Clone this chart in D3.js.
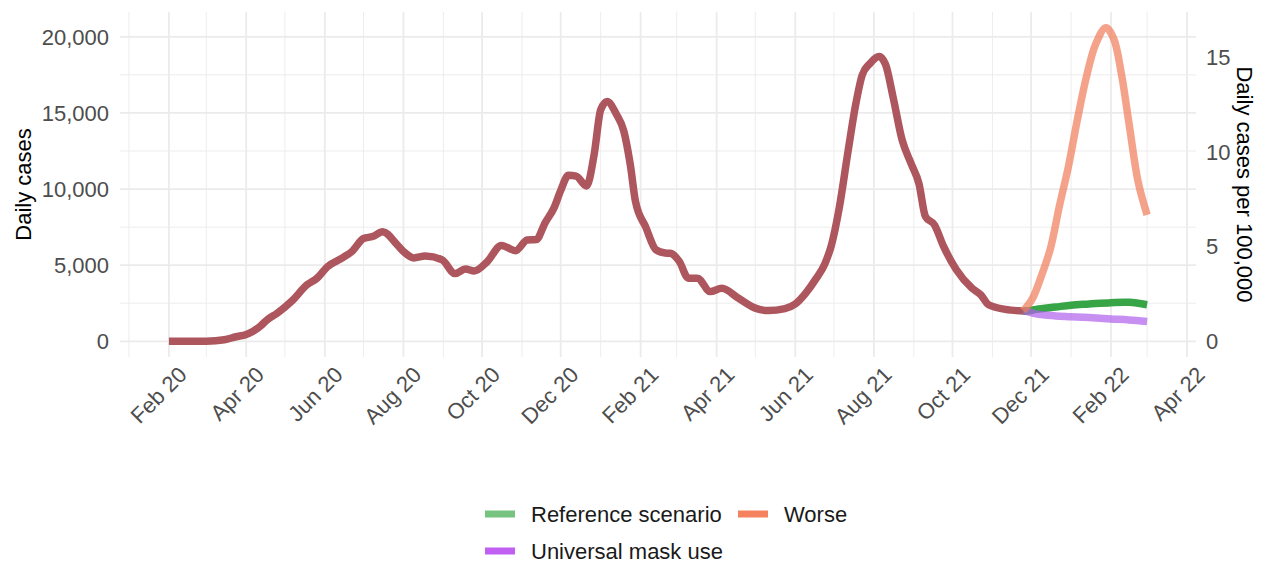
<!DOCTYPE html>
<html>
<head>
<meta charset="utf-8">
<script src="https://cdn.jsdelivr.net/npm/d3@7"></script>
<style>
  body { margin: 0; background: #fff; }
  svg { font-family: "Liberation Sans", Arial, sans-serif; }
</style>
</head>
<body>
<svg width="1267" height="564"></svg>
<script>
var histDates = ["2020-02-01","2020-03-01","2020-03-15","2020-03-24","2020-04-01","2020-04-06","2020-04-12","2020-04-17","2020-04-25","2020-05-07","2020-05-18","2020-05-26","2020-06-03","2020-06-15","2020-06-22","2020-07-01","2020-07-08","2020-07-16","2020-07-27","2020-08-01","2020-08-09","2020-08-18","2020-08-31","2020-09-10","2020-09-18","2020-09-25","2020-10-05","2020-10-16","2020-10-27","2020-11-05","2020-11-12","2020-11-19","2020-11-26","2020-12-01","2020-12-07","2020-12-13","2020-12-21","2020-12-27","2021-01-01","2021-01-06","2021-01-13","2021-01-19","2021-01-24","2021-01-28","2021-02-05","2021-02-13","2021-02-20","2021-02-24","2021-03-03","2021-03-10","2021-03-17","2021-03-27","2021-04-05","2021-04-18","2021-05-01","2021-05-11","2021-05-24","2021-06-01","2021-06-09","2021-06-17","2021-06-24","2021-06-29","2021-07-05","2021-07-12","2021-07-18","2021-07-23","2021-07-29","2021-08-05","2021-08-10","2021-08-16","2021-08-23","2021-08-30","2021-09-05","2021-09-10","2021-09-17","2021-09-24","2021-10-04","2021-10-16","2021-10-23","2021-10-29","2021-11-11","2021-11-23","2021-11-28"];
var histCases = [0,10,100,300,450,650,1000,1400,1850,2700,3700,4150,4900,5500,5900,6750,6880,7200,6350,5900,5480,5600,5350,4450,4750,4620,5230,6300,5950,6650,6680,7800,8800,9900,10900,10850,10200,12300,15200,15750,14950,13800,11600,9200,7500,6000,5800,5780,5250,4150,4150,3270,3480,2830,2180,2020,2150,2450,3150,4100,5100,6300,8700,12500,15600,17500,18250,18700,18200,16000,13200,11650,10350,8200,7650,6250,4700,3500,3050,2400,2100,2000,1980];

// projections
var refDates = ["2021-11-25","2021-11-28","2021-12-05","2021-12-20","2022-01-01","2022-01-15","2022-02-01","2022-02-15","2022-03-01"];
var refCases = [2000,1990,2100,2250,2370,2450,2540,2560,2400];
var maskDates = ["2021-11-25","2021-11-28","2021-12-05","2021-12-20","2022-01-01","2022-01-15","2022-02-01","2022-02-15","2022-03-01"];
var maskCases = [2000,1960,1800,1670,1620,1560,1470,1400,1300];
var worseDates = ["2021-11-25","2021-12-02","2021-12-09","2021-12-16","2021-12-23","2021-12-30","2022-01-06","2022-01-13","2022-01-20","2022-01-28","2022-02-03","2022-02-09","2022-02-15","2022-02-22","2022-03-01"];
var worseCases = [2000,2800,4300,6100,8900,11500,14600,17400,19500,20600,19900,17600,14300,10500,8300];

var legendLabels = ["Reference scenario", "Worse", "Universal mask use"];
var leftTicks = [0, 5000, 10000, 15000, 20000];
var rightTicks = [0, 5, 10, 15];
var perHundredK = 1245; // cases per 1 per 100,000

var parse = d3.timeParse("%Y-%m-%d");
function zipSeries(dates, vals) {
  return dates.map(function(d, i) { return {date: parse(d), v: vals[i]}; });
}
var hist = zipSeries(histDates, histCases);
var ref = zipSeries(refDates, refCases);
var mask = zipSeries(maskDates, maskCases);
var worse = zipSeries(worseDates, worseCases);

var panel = {left: 120, right: 1196, top: 12, bottom: 357};

// ggplot style 5% expansion
var xMin = parse("2020-02-01"), xMax = parse("2022-03-01");
var span = xMax - xMin;
var x = d3.scaleTime()
  .domain([new Date(+xMin - span * 0.05), new Date(+xMax + span * 0.05)])
  .range([panel.left, panel.right]);

var yMax = d3.max(worseCases);
var y = d3.scaleLinear()
  .domain([-yMax * 0.05, yMax * 1.05])
  .range([panel.bottom, panel.top]);

var svg = d3.select("svg");
var grid = svg.append("g");

// minor gridlines (odd months between the breaks)
var minorX = d3.timeMonth.range(parse("2020-01-01"), parse("2022-05-01"), 2);
grid.selectAll("line.minx")
  .data(minorX.filter(function(d) { return x(d) > panel.left && x(d) < panel.right; }))
  .enter().append("line")
  .attr("x1", function(d) { return x(d); }).attr("x2", function(d) { return x(d); })
  .attr("y1", panel.top).attr("y2", panel.bottom)
  .attr("stroke", "#ebebeb").attr("stroke-width", 0.9);
grid.selectAll("line.miny")
  .data([2500, 7500, 12500, 17500])
  .enter().append("line")
  .attr("x1", panel.left).attr("x2", panel.right)
  .attr("y1", function(d) { return y(d); }).attr("y2", function(d) { return y(d); })
  .attr("stroke", "#ebebeb").attr("stroke-width", 0.9);

// major gridlines
var majorX = d3.timeMonth.range(parse("2020-02-01"), parse("2022-05-01"), 2);
grid.selectAll("line.majx")
  .data(majorX)
  .enter().append("line")
  .attr("x1", function(d) { return x(d); }).attr("x2", function(d) { return x(d); })
  .attr("y1", panel.top).attr("y2", panel.bottom)
  .attr("stroke", "#ebebeb").attr("stroke-width", 1.8);
grid.selectAll("line.majy")
  .data(leftTicks)
  .enter().append("line")
  .attr("x1", panel.left).attr("x2", panel.right)
  .attr("y1", function(d) { return y(d); }).attr("y2", function(d) { return y(d); })
  .attr("stroke", "#ebebeb").attr("stroke-width", 1.8);

// tick labels
var fmt = d3.format(",");
svg.selectAll("text.yl")
  .data(leftTicks)
  .enter().append("text")
  .attr("x", 109).attr("y", function(d) { return y(d); })
  .attr("dy", "0.36em").attr("text-anchor", "end")
  .attr("font-size", 22).attr("fill", "#4d4d4d")
  .text(function(d) { return fmt(d); });

svg.selectAll("text.yr")
  .data(rightTicks)
  .enter().append("text")
  .attr("x", 1206).attr("y", function(d) { return y(d * perHundredK); })
  .attr("dy", "0.36em").attr("text-anchor", "start")
  .attr("font-size", 22).attr("fill", "#4d4d4d")
  .text(function(d) { return d; });

var xfmt = d3.timeFormat("%b %y");
svg.selectAll("text.xl")
  .data(majorX)
  .enter().append("text")
  .attr("transform", function(d) { return "translate(" + (x(d) + 8) + ",365) rotate(-45)"; })
  .attr("dy", "0.72em").attr("text-anchor", "end")
  .attr("font-size", 22).attr("fill", "#4d4d4d")
  .text(function(d) { return xfmt(d); });

// axis titles
svg.append("text")
  .attr("transform", "translate(31," + (panel.top + panel.bottom) / 2 + ") rotate(-90)")
  .attr("text-anchor", "middle").attr("font-size", 22).attr("fill", "#000")
  .text("Daily cases");
svg.append("text")
  .attr("transform", "translate(1237," + (panel.top + panel.bottom) / 2 + ") rotate(90)")
  .attr("text-anchor", "middle").attr("font-size", 22).attr("fill", "#000")
  .text("Daily cases per 100,000");

// lines
var line = d3.line()
  .x(function(d) { return x(d.date); })
  .y(function(d) { return y(d.v); })
  .curve(d3.curveMonotoneX);
var smooth = d3.line()
  .x(function(d) { return x(d.date); })
  .y(function(d) { return y(d.v); })
  .curve(d3.curveCatmullRom.alpha(0.5));

var lines = svg.append("g").attr("fill", "none").attr("stroke-linecap", "butt").attr("stroke-linejoin", "round");
lines.append("path").attr("d", line(hist)).attr("stroke", "#ad565d").attr("stroke-width", 7.5);
lines.append("path").attr("d", smooth(ref)).attr("stroke", "#37a545").attr("stroke-width", 7.5);
lines.append("path").attr("d", smooth(mask)).attr("stroke", "#b060ee").attr("stroke-opacity", 0.7).attr("stroke-width", 7.5);
lines.append("path").attr("d", smooth(worse)).attr("stroke", "#f07c58").attr("stroke-opacity", 0.7).attr("stroke-width", 7.5);

// legend
var legendColors = ["#76c47f", "#f4825e", "#c05ff2"];
var legendPos = [[485, 514], [738, 514], [485, 551]];
var leg = svg.append("g");
legendLabels.forEach(function(lab, i) {
  var p = legendPos[i];
  leg.append("line")
    .attr("x1", p[0]).attr("x2", p[0] + 30)
    .attr("y1", p[1]).attr("y2", p[1])
    .attr("stroke", legendColors[i]).attr("stroke-width", 7);
  leg.append("text")
    .attr("x", p[0] + 46).attr("y", p[1]).attr("dy", "0.36em")
    .attr("font-size", 22).attr("fill", "#1a1a1a")
    .text(lab);
});
</script>
</body>
</html>
